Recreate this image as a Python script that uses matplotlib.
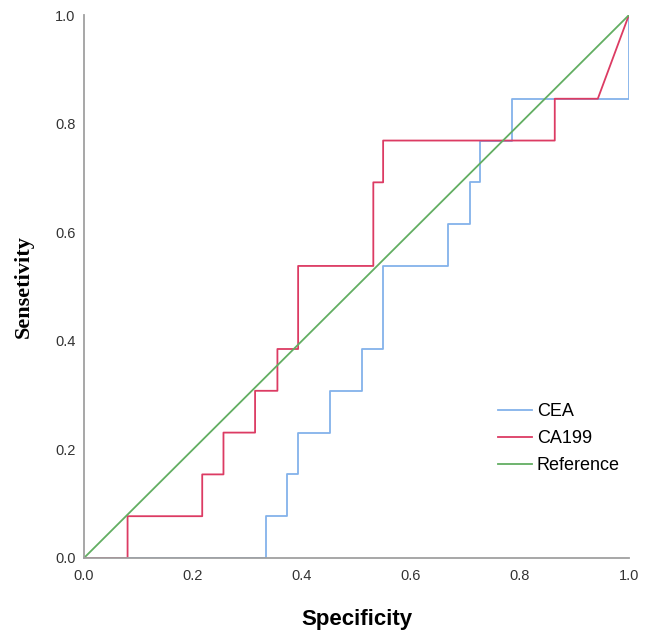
import matplotlib
matplotlib.use("Agg")
import matplotlib.pyplot as plt

# CEA ROC curve (x = 1 - specificity as plotted, y = sensitivity)
cea_x = [0.0, 0.334, 0.334, 0.373, 0.373, 0.393, 0.393, 0.451, 0.451, 0.511, 0.511,
         0.549, 0.549, 0.668, 0.668, 0.708, 0.708, 0.727, 0.727, 0.786, 0.786, 1.0, 1.0]
cea_y = [0.0, 0.0, 0.077, 0.077, 0.154, 0.154, 0.231, 0.231, 0.308, 0.308, 0.385,
         0.385, 0.538, 0.538, 0.615, 0.615, 0.692, 0.692, 0.769, 0.769, 0.846, 0.846, 1.0]

# CA199 ROC curve
ca_x = [0.0, 0.080, 0.080, 0.217, 0.217, 0.256, 0.256, 0.314, 0.314, 0.355, 0.355,
        0.393, 0.393, 0.531, 0.531, 0.549, 0.549, 0.864, 0.864, 0.943, 1.0]
ca_y = [0.0, 0.0, 0.077, 0.077, 0.154, 0.154, 0.231, 0.231, 0.308, 0.308, 0.385,
        0.385, 0.538, 0.538, 0.692, 0.692, 0.769, 0.769, 0.846, 0.846, 1.0]

ref_x = [0.0, 1.0]
ref_y = [0.0, 1.0]

ticks = [0.0, 0.2, 0.4, 0.6, 0.8, 1.0]
tick_labels = ["0.0", "0.2", "0.4", "0.6", "0.8", "1.0"]

fig = plt.figure(figsize=(6.51, 6.31), dpi=100)
ax = fig.add_axes([0.129, 0.1157, 0.837, 0.8603])

ax.plot(cea_x, cea_y, color="#84B2EA", lw=1.3, label="CEA")
ax.plot(ca_x, ca_y, color="#DC3B63", lw=1.3, label="CA199")
ax.plot(ref_x, ref_y, color="#62AE62", lw=1.3, label="Reference")

ax.set_xlim(0, 1)
ax.set_ylim(0, 1)
ax.set_xticks(ticks)
ax.set_xticklabels(tick_labels)
ax.set_yticks(ticks)
ax.set_yticklabels(tick_labels)
for lab in ax.get_xticklabels() + ax.get_yticklabels():
    lab.set_family("Liberation Sans")
    lab.set_fontsize(10.5)
    lab.set_color("#333333")
ax.tick_params(axis="x", length=0, pad=8)
ax.tick_params(axis="y", length=0, pad=6)

for s in ["top", "right"]:
    ax.spines[s].set_visible(False)
for s in ["left", "bottom"]:
    ax.spines[s].set_color("#a0a0a0")
    ax.spines[s].set_linewidth(1.3)

ax.set_xlabel("Specificity", fontsize=16, fontweight="bold", family="Liberation Sans", labelpad=19)
ax.set_ylabel("Sensetivity", fontsize=16, fontweight="bold", family="Liberation Serif", labelpad=15)

leg = ax.legend(loc="center left", bbox_to_anchor=(0.73, 0.22), frameon=False,
                prop={"family": "Liberation Sans", "size": 13}, handlelength=1.9,
                handletextpad=0.25, labelspacing=0.55)

fig.savefig("out.png", dpi=100)
